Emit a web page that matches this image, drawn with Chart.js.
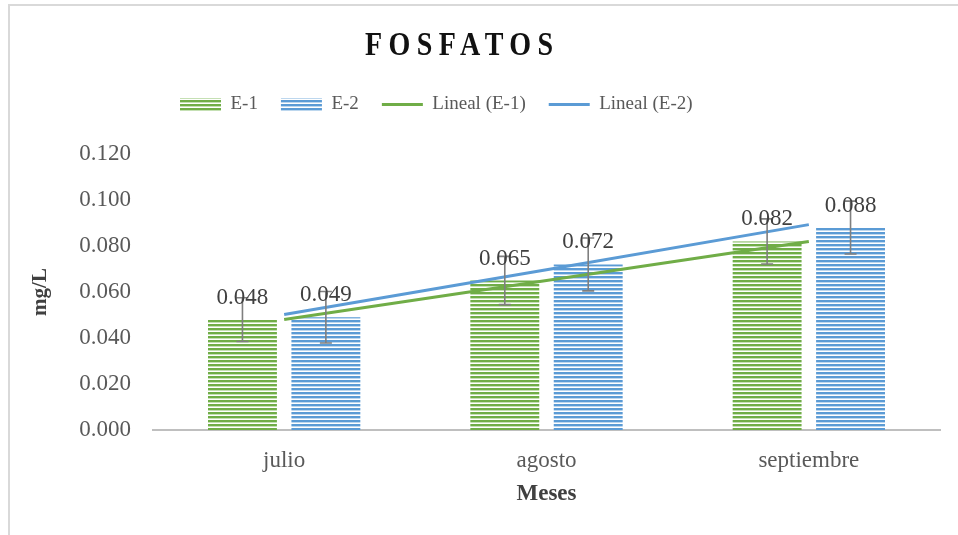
<!DOCTYPE html>
<html>
<head>
<meta charset="utf-8">
<script src="https://cdn.jsdelivr.net/npm/chart.js@4.4.0/dist/chart.umd.min.js"></script>
<style>
  html, body { margin: 0; padding: 0; background: #fff; }
  #wrap { position: relative; width: 958px; height: 535px; overflow: hidden; }
  #frame { position: absolute; left: 8px; top: 4px; width: 1000px; height: 600px;
           border-left: 2px solid #d9d9d9; border-top: 2px solid #d9d9d9; }
  canvas { position: absolute; left: 0; top: 0; }
</style>
</head>
<body>
<div id="wrap">
  <div id="frame"></div>
  <canvas id="chart" width="958" height="535"></canvas>
</div>
<script>
// Data
const months = ['julio', 'agosto', 'septiembre'];
const e1 = [0.048, 0.065, 0.082];
const e2 = [0.049, 0.072, 0.088];
const e1Err = [0.0095, 0.0105, 0.0098];
const e2Err = [0.0112, 0.0115, 0.0115];
const trendE1 = [0.048, 0.065, 0.082];
const trendE2 = [0.0502, 0.0697, 0.0893];
const yMin = 0, yMax = 0.12, yStep = 0.02;

const GREEN = '#70AD47';
const BLUE = '#5B9BD5';
const SERIF = '"Liberation Serif", "Times New Roman", serif';

// horizontal stripe fill like Excel's pattern
function stripes(base, light) {
  const c = document.createElement('canvas');
  c.width = 8; c.height = 4;
  const g = c.getContext('2d');
  g.fillStyle = base; g.fillRect(0, 0, 8, 4);
  g.fillStyle = light; g.fillRect(0, 2, 8, 1);
  g.fillStyle = '#ffffff'; g.fillRect(0, 3, 8, 1);
  return g.createPattern(c, 'repeat');
}

const errorBars = {
  id: 'errorBars',
  afterDatasetsDraw(chart) {
    const ctx = chart.ctx;
    const y = chart.scales.y;
    const sets = [[0, e1Err], [1, e2Err]];
    ctx.save();
    ctx.strokeStyle = '#7f7f7f';
    ctx.lineWidth = 1.6;
    sets.forEach(([di, errs]) => {
      const meta = chart.getDatasetMeta(di);
      const vals = chart.data.datasets[di].data;
      meta.data.forEach((bar, i) => {
        const top = y.getPixelForValue(vals[i] + errs[i]);
        const bot = y.getPixelForValue(vals[i] - errs[i]);
        ctx.beginPath();
        ctx.moveTo(bar.x, top); ctx.lineTo(bar.x, bot);
        ctx.moveTo(bar.x - 6, top); ctx.lineTo(bar.x + 6, top);
        ctx.moveTo(bar.x - 6, bot); ctx.lineTo(bar.x + 6, bot);
        ctx.stroke();
      });
    });
    // data labels
    ctx.fillStyle = '#404040';
    ctx.font = '23px ' + SERIF;
    ctx.textAlign = 'center';
    ctx.textBaseline = 'alphabetic';
    [0, 1].forEach(di => {
      const meta = chart.getDatasetMeta(di);
      const vals = chart.data.datasets[di].data;
      meta.data.forEach((bar, i) => {
        ctx.fillText(vals[i].toFixed(3), bar.x, bar.y - 16);
      });
    });
    ctx.restore();
  }
};

const titlePlugin = {
  id: 'spacedTitle',
  afterLayout(chart) {
    // place the legend row like the original
    if (chart.legend) {
      chart.legend.left = 157;
      chart.legend.top = 72;
    }
  },
  afterDraw(chart) {
    const ctx = chart.ctx;
    const sx = 0.85, spacing = 7.5;
    ctx.save();
    ctx.translate(459, 45);
    ctx.scale(sx, 1);
    ctx.font = 'bold 33px ' + SERIF;
    ctx.letterSpacing = spacing + 'px';
    ctx.fillStyle = '#111111';
    ctx.textAlign = 'center';
    ctx.textBaseline = 'middle';
    ctx.fillText('FOSFATOS', spacing / 2, 1);
    ctx.restore();
  }
};

new Chart(document.getElementById('chart'), {
  data: {
    labels: months,
    datasets: [
      { type: 'bar', label: 'E-1', data: e1, backgroundColor: stripes(GREEN, '#c5e0b4'),
        borderWidth: 0, borderColor: 'transparent', pointStyle: 'rect', order: 2,
        categoryPercentage: 0.636, barPercentage: 0.826 },
      { type: 'bar', label: 'E-2', data: e2, backgroundColor: stripes(BLUE, '#bdd7ee'),
        borderWidth: 0, borderColor: 'transparent', pointStyle: 'rect', order: 2,
        categoryPercentage: 0.636, barPercentage: 0.826 },
      { type: 'line', label: 'Lineal (E-1)', data: trendE1, borderColor: GREEN, backgroundColor: GREEN,
        borderWidth: 3, pointRadius: 0, pointStyle: 'line', order: 1, tension: 0 },
      { type: 'line', label: 'Lineal (E-2)', data: trendE2, borderColor: BLUE, backgroundColor: BLUE,
        borderWidth: 3, pointRadius: 0, pointStyle: 'line', order: 1, tension: 0 }
    ]
  },
  options: {
    responsive: false,
    animation: false,
    layout: { padding: { left: 8, right: 18, top: 102, bottom: 0 } },
    plugins: {
      tooltip: { enabled: false },
      legend: {
        position: 'top',
        align: 'start',
        labels: {
          usePointStyle: true,
          pointStyleWidth: 41,
          boxWidth: 41,
          boxHeight: 13,
          padding: 23,
          color: '#595959',
          font: { family: SERIF, size: 19 },
          sort: (a, b) => a.datasetIndex - b.datasetIndex
        }
      }
    },
    scales: {
      x: {
        grid: { display: false, drawTicks: false },
        border: { display: true, color: '#bfbfbf', width: 2 },
        ticks: { color: '#595959', font: { family: SERIF, size: 23 }, padding: 17 },
        title: { display: true, text: 'Meses', color: '#404040',
                 font: { family: SERIF, size: 23, weight: 'bold' }, padding: { bottom: 27 } },
        afterFit: s => { s.height = 105; }
      },
      y: {
        min: yMin, max: yMax,
        grid: { display: false, drawTicks: false },
        border: { display: false },
        ticks: { stepSize: yStep, color: '#595959', font: { family: SERIF, size: 23 }, padding: 22,
                 callback: v => v.toFixed(3) },
        title: { display: true, text: 'mg/L', color: '#404040',
                 font: { family: SERIF, size: 21, weight: 'bold' }, padding: { top: 20 } },
        afterFit: s => { s.width = 145; }
      }
    }
  },
  plugins: [errorBars, titlePlugin]
});
</script>
</body>
</html>
